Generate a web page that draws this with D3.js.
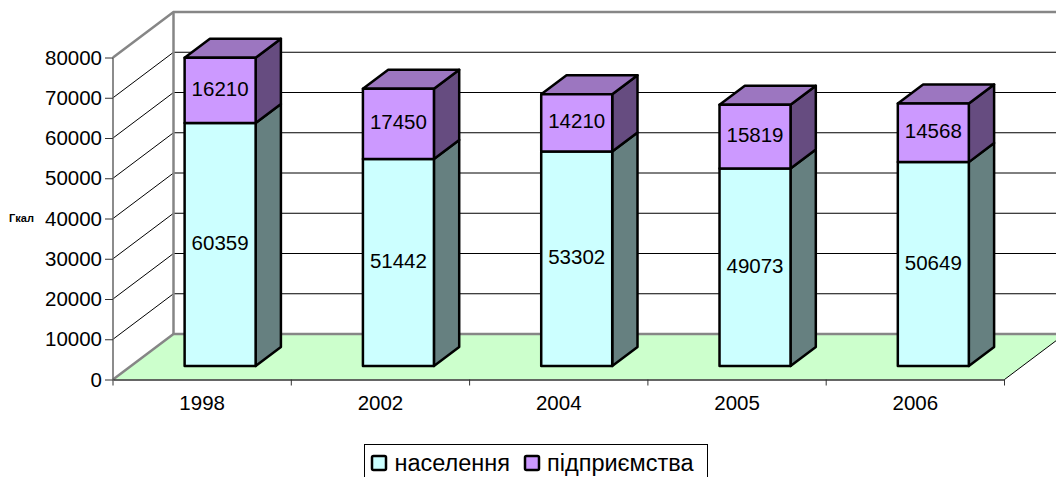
<!DOCTYPE html>
<html>
<head>
<meta charset="utf-8">
<script src="https://cdn.jsdelivr.net/npm/d3@7"></script>
<style>
body { margin: 0; background: #fff; overflow: hidden; }
text { font-family: "Liberation Sans", Arial, sans-serif; fill: #000; }
</style>
</head>
<body>
<div class="chart"></div>
<script>
var years = ["1998", "2002", "2004", "2005", "2006"];
var population = [60359, 51442, 53302, 49073, 50649];
var business = [16210, 17450, 14210, 15819, 14568];
var seriesNames = ["населення", "підприємства"];
var yTicks = [0, 10000, 20000, 30000, 40000, 50000, 60000, 70000, 80000];

var width = 1056;
var height = 477;

// front plane of the 3d box, everything else is offset from it
var plotLeft = 113, plotRight = 1004.5, plotBottom = 379.5, plotTop = 57.5;
var depthX = 60.5, depthY = -45.5;

var x = d3.scaleBand().domain(years).range([plotLeft, plotRight]);
var y = d3.scaleLinear().domain([0, 80000]).range([plotBottom, plotTop]);

var barWidth = 71;
var barFront = 0.297, barBack = 0.715;

function px(xVal, d) { return xVal + depthX * d; }
function py(yVal, d) { return yVal + depthY * d; }
function pts(list) {
    return list.map(function(p) { return p.join(","); }).join(" ");
}

var colors = {
    population: { front: "#CCFFFF", side: "#668080" },
    business: { front: "#CC99FF", side: "#664C80", top: "#9C76C0" }
};

var svg = d3.select(".chart").append("svg")
    .attr("width", width)
    .attr("height", height)
    .style("display", "block");

// floor
svg.append("polygon")
    .attr("points", pts([
        [plotLeft, plotBottom], [plotRight, plotBottom],
        [px(plotRight, 1), py(plotBottom, 1)], [px(plotLeft, 1), py(plotBottom, 1)]
    ]))
    .attr("fill", "#CCFFCC");

// gridlines, left wall then back wall
svg.selectAll(".grid")
    .data(yTicks.slice(1, -1))
    .enter().append("polyline")
    .attr("class", "grid")
    .attr("fill", "none")
    .attr("stroke", "#000")
    .attr("stroke-width", 1)
    .attr("points", function(d) {
        return pts([[plotLeft, y(d)], [px(plotLeft, 1), py(y(d), 1)], [px(plotRight, 1), py(y(d), 1)]]);
    });

// wall outline
svg.append("polyline")
    .attr("fill", "none")
    .attr("stroke", "#868686")
    .attr("stroke-width", 2.5)
    .attr("points", pts([
        [plotLeft, plotTop], [px(plotLeft, 1), py(plotTop, 1)], [px(plotRight, 1), py(plotTop, 1)]
    ]));
svg.append("polyline")
    .attr("fill", "none")
    .attr("stroke", "#868686")
    .attr("stroke-width", 2.5)
    .attr("points", pts([
        [plotLeft, plotBottom], [px(plotLeft, 1), py(plotBottom, 1)], [px(plotRight, 1), py(plotBottom, 1)]
    ]));
svg.append("line")
    .attr("x1", px(plotLeft, 1)).attr("x2", px(plotLeft, 1))
    .attr("y1", py(plotTop, 1)).attr("y2", py(plotBottom, 1))
    .attr("stroke", "#868686")
    .attr("stroke-width", 2.5);

// right edge of the floor
svg.append("line")
    .attr("x1", plotRight).attr("y1", plotBottom)
    .attr("x2", px(plotRight, 1)).attr("y2", py(plotBottom, 1))
    .attr("stroke", "#000");

// left axis line
svg.append("line")
    .attr("x1", plotLeft).attr("x2", plotLeft)
    .attr("y1", plotTop).attr("y2", plotBottom)
    .attr("stroke", "#666")
    .attr("stroke-width", 1.5);

var stacks = years.map(function(year, i) {
    return { year: year, a: population[i], b: business[i] };
});

function barLeft(d) { return px(x(d.year) + x.bandwidth() / 2 - barWidth / 2, barFront); }

function drawBox(g, x0, v0, v1, c, withTop) {
    var f = barFront, b = barBack;
    var x1 = x0 + barWidth;
    var df = depthX * (b - f), dy = depthY * (b - f);
    var y0 = py(y(v0), f), y1 = py(y(v1), f);

    g.append("polygon")
        .attr("points", pts([[x1, y0], [x1 + df, y0 + dy], [x1 + df, y1 + dy], [x1, y1]]))
        .attr("fill", c.side);
    if (withTop) {
        g.append("polygon")
            .attr("points", pts([[x0, y1], [x1, y1], [x1 + df, y1 + dy], [x0 + df, y1 + dy]]))
            .attr("fill", c.top);
    }
    g.append("rect")
        .attr("x", x0).attr("y", y1)
        .attr("width", barWidth).attr("height", y0 - y1)
        .attr("fill", c.front);
}

var bars = svg.selectAll(".stack")
    .data(stacks)
    .enter().append("g")
    .attr("class", "stack")
    .attr("stroke", "#000")
    .attr("stroke-width", 2.5)
    .attr("stroke-linejoin", "round");

bars.each(function(d) {
    var g = d3.select(this);
    drawBox(g, barLeft(d), 0, d.a, colors.population, false);
    drawBox(g, barLeft(d), d.a, d.a + d.b, colors.business, true);
});

// value labels
var labelData = [];
stacks.forEach(function(d) {
    labelData.push({ year: d.year, value: d.a, from: 0 });
    labelData.push({ year: d.year, value: d.b, from: d.a });
});

svg.selectAll(".value")
    .data(labelData)
    .enter().append("text")
    .attr("class", "value")
    .attr("text-anchor", "middle")
    .attr("font-size", 20.5)
    .attr("x", function(d) { return px(x(d.year) + x.bandwidth() / 2, barFront); })
    .attr("y", function(d) { return py(y(d.from + d.value / 2), barFront) + 5.5; })
    .text(function(d) { return d.value; });

// axes
var yAxis = d3.axisLeft(y).tickValues(yTicks).tickSize(8).tickPadding(3).tickFormat(d3.format("d"));
var yG = svg.append("g").attr("transform", "translate(" + plotLeft + ",0)").call(yAxis);
yG.select(".domain").remove();
yG.selectAll("line").attr("stroke", "#333");
yG.selectAll("text").attr("font-size", 20.5).attr("font-family", "Liberation Sans");

var xAxis = d3.axisBottom(x).tickSize(0).tickPadding(16);
var xG = svg.append("g").attr("transform", "translate(0," + plotBottom + ")").call(xAxis);
xG.select(".domain").attr("stroke", "#333").attr("stroke-width", 1.5);
xG.selectAll("text").attr("font-size", 20.5).attr("font-family", "Liberation Sans");

svg.selectAll(".xTick")
    .data(years.map(function(d) { return x(d); }).concat([plotRight]))
    .enter().append("line")
    .attr("class", "xTick")
    .attr("x1", function(d) { return d; }).attr("x2", function(d) { return d; })
    .attr("y1", plotBottom).attr("y2", plotBottom + 6)
    .attr("stroke", "#333");

// unit label
svg.append("text")
    .attr("x", 21.5).attr("y", 222)
    .attr("text-anchor", "middle")
    .attr("font-size", 11)
    .attr("font-weight", "bold")
    .text("Гкал");

// legend, box runs past the bottom of the picture
var legend = svg.append("g");
legend.append("rect")
    .attr("x", 364.5).attr("y", 444.5)
    .attr("width", 343).attr("height", 60)
    .attr("fill", "#fff")
    .attr("stroke", "#000");

var legendItems = [
    { name: seriesNames[0], color: colors.population.front, sx: 372, tx: 394.5 },
    { name: seriesNames[1], color: colors.business.front, sx: 525, tx: 547 }
];
legend.selectAll(".swatch")
    .data(legendItems)
    .enter().append("rect")
    .attr("class", "swatch")
    .attr("x", function(d) { return d.sx; })
    .attr("y", 456)
    .attr("width", 14).attr("height", 14)
    .attr("rx", 1.5)
    .attr("fill", function(d) { return d.color; })
    .attr("stroke", "#000")
    .attr("stroke-width", 2.5);
legend.selectAll(".legendText")
    .data(legendItems)
    .enter().append("text")
    .attr("class", "legendText")
    .attr("x", function(d) { return d.tx; })
    .attr("y", 471)
    .attr("font-size", 23.5)
    .text(function(d) { return d.name; });
</script>
</body>
</html>
